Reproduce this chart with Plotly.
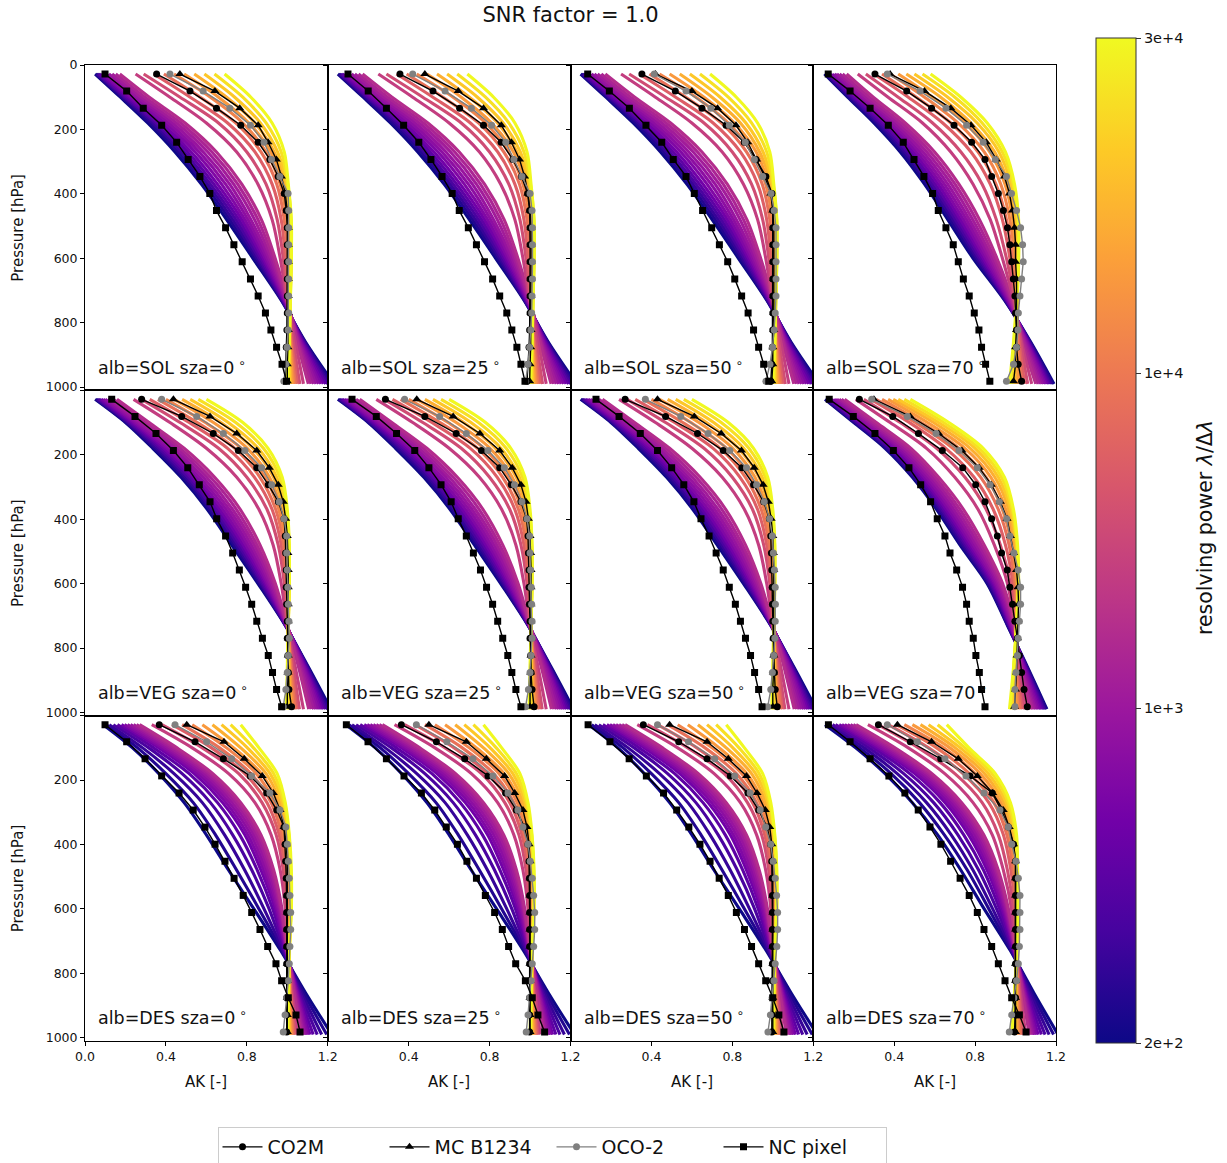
import plotly.graph_objects as go
from plotly.subplots import make_subplots
import plotly.colors as pc

# ---------------- data ----------------
ALBEDOS = ["SOL", "VEG", "DES"]
SZAS = [0, 25, 50, 70]
P_LINE = [28, 100, 180, 270, 370, 480, 600, 730, 860, 990]          # hPa, simulated AK curves
P_MARK = [28, 81, 134, 187, 240, 293, 346, 399, 452, 505, 558, 611, 664, 717, 770, 823, 876, 929, 982]
# colorbar position of each simulated resolving power (0 -> 2e+2, 1 -> 3e+4)
RP_POS = [0.0, 0.04, 0.08, 0.12, 0.17, 0.22, 0.26, 0.29, 0.32, 0.35, 0.38,
          0.41, 0.47, 0.52, 0.58, 0.64, 0.70, 0.76, 0.82, 0.88, 0.94, 1.0]
CBAR_TICKS = [0, 1 / 3, 2 / 3, 1]
CBAR_LABELS = ["2e+2", "1e+3", "1e+4", "3e+4"]
SERIES = ["CO2M", "MC B1234", "OCO-2", "NC pixel"]

# simulated AK curves (one row per resolving power, values at P_LINE)
FAN_SOL = [
    [0.05, 0.175, 0.31, 0.445, 0.575, 0.70, 0.83, 0.97, 1.09, 1.23],
    [0.055, 0.182, 0.322, 0.46, 0.59, 0.715, 0.84, 0.972, 1.087, 1.22],
    [0.06, 0.19, 0.335, 0.475, 0.605, 0.73, 0.85, 0.975, 1.084, 1.21],
    [0.066, 0.198, 0.348, 0.49, 0.62, 0.745, 0.86, 0.978, 1.08, 1.20],
    [0.073, 0.207, 0.362, 0.507, 0.637, 0.76, 0.87, 0.981, 1.077, 1.19],
    [0.082, 0.218, 0.378, 0.525, 0.655, 0.775, 0.88, 0.984, 1.073, 1.178],
    [0.092, 0.23, 0.395, 0.545, 0.675, 0.79, 0.89, 0.987, 1.069, 1.166],
    [0.104, 0.244, 0.413, 0.565, 0.695, 0.805, 0.90, 0.99, 1.065, 1.154],
    [0.118, 0.26, 0.432, 0.585, 0.715, 0.82, 0.91, 0.992, 1.061, 1.142],
    [0.134, 0.277, 0.452, 0.607, 0.735, 0.838, 0.92, 0.995, 1.057, 1.13],
    [0.152, 0.296, 0.473, 0.628, 0.755, 0.855, 0.93, 0.997, 1.053, 1.117],
    [0.172, 0.318, 0.495, 0.65, 0.775, 0.872, 0.94, 1.0, 1.049, 1.104],
    [0.25, 0.42, 0.60, 0.75, 0.855, 0.925, 0.965, 0.998, 1.04, 1.08],
    [0.29, 0.47, 0.66, 0.80, 0.895, 0.95, 0.98, 1.0, 1.03, 1.062],
    [0.34, 0.52, 0.705, 0.84, 0.925, 0.97, 0.99, 1.003, 1.022, 1.05],
    [0.39, 0.57, 0.745, 0.87, 0.948, 0.985, 1.0, 1.006, 1.018, 1.04],
    [0.44, 0.62, 0.78, 0.895, 0.965, 0.997, 1.008, 1.009, 1.015, 1.032],
    [0.49, 0.66, 0.81, 0.918, 0.978, 1.006, 1.013, 1.011, 1.013, 1.025],
    [0.54, 0.70, 0.84, 0.935, 0.99, 1.012, 1.017, 1.013, 1.011, 1.018],
    [0.59, 0.74, 0.867, 0.952, 0.997, 1.016, 1.019, 1.014, 1.01, 1.012],
    [0.64, 0.78, 0.895, 0.97, 1.002, 1.019, 1.02, 1.015, 1.01, 1.006],
    [0.69, 0.82, 0.925, 0.985, 1.005, 1.02, 1.02, 1.015, 1.01, 1.0],
]
FAN_SOL_70 = [
    [0.055, 0.17, 0.30, 0.43, 0.55, 0.665, 0.79, 0.945, 1.075, 1.19],
    [0.06, 0.177, 0.31, 0.442, 0.562, 0.677, 0.80, 0.948, 1.072, 1.184],
    [0.066, 0.185, 0.32, 0.454, 0.575, 0.69, 0.81, 0.951, 1.069, 1.177],
    [0.072, 0.193, 0.331, 0.467, 0.588, 0.702, 0.82, 0.954, 1.066, 1.17],
    [0.079, 0.202, 0.343, 0.48, 0.602, 0.715, 0.83, 0.957, 1.063, 1.163],
    [0.087, 0.212, 0.356, 0.495, 0.617, 0.728, 0.84, 0.96, 1.06, 1.156],
    [0.096, 0.222, 0.37, 0.51, 0.632, 0.742, 0.851, 0.964, 1.057, 1.148],
    [0.106, 0.234, 0.385, 0.526, 0.648, 0.757, 0.862, 0.968, 1.053, 1.14],
    [0.117, 0.246, 0.401, 0.543, 0.665, 0.772, 0.873, 0.972, 1.049, 1.131],
    [0.13, 0.26, 0.418, 0.561, 0.683, 0.788, 0.884, 0.976, 1.045, 1.122],
    [0.145, 0.277, 0.436, 0.58, 0.701, 0.805, 0.896, 0.98, 1.04, 1.112],
    [0.165, 0.297, 0.455, 0.60, 0.72, 0.822, 0.908, 0.984, 1.035, 1.10],
    [0.22, 0.37, 0.54, 0.68, 0.79, 0.875, 0.935, 0.99, 1.03, 1.08],
    [0.26, 0.42, 0.59, 0.73, 0.835, 0.905, 0.955, 0.995, 1.025, 1.06],
    [0.30, 0.47, 0.64, 0.78, 0.875, 0.935, 0.972, 0.999, 1.018, 1.045],
    [0.34, 0.51, 0.68, 0.815, 0.903, 0.955, 0.985, 1.003, 1.013, 1.032],
    [0.38, 0.55, 0.715, 0.845, 0.927, 0.972, 0.996, 1.006, 1.008, 1.022],
    [0.42, 0.59, 0.75, 0.872, 0.948, 0.986, 1.004, 1.008, 1.004, 1.012],
    [0.46, 0.63, 0.78, 0.897, 0.965, 0.998, 1.01, 1.008, 1.0, 1.0],
    [0.50, 0.665, 0.81, 0.918, 0.978, 1.006, 1.013, 1.008, 0.997, 0.99],
    [0.54, 0.70, 0.835, 0.935, 0.988, 1.011, 1.015, 1.007, 0.993, 0.98],
    [0.58, 0.73, 0.86, 0.95, 0.995, 1.015, 1.015, 1.005, 0.99, 0.97],
]
FAN_VEG = [
    [0.05, 0.20, 0.335, 0.475, 0.605, 0.725, 0.855, 0.99, 1.105, 1.215],
    [0.055, 0.205, 0.345, 0.486, 0.616, 0.736, 0.862, 0.991, 1.102, 1.207],
    [0.06, 0.211, 0.355, 0.497, 0.627, 0.747, 0.869, 0.992, 1.099, 1.199],
    [0.066, 0.218, 0.366, 0.509, 0.639, 0.758, 0.876, 0.993, 1.096, 1.19],
    [0.073, 0.226, 0.378, 0.522, 0.652, 0.77, 0.883, 0.994, 1.092, 1.181],
    [0.081, 0.235, 0.391, 0.536, 0.666, 0.782, 0.891, 0.995, 1.088, 1.172],
    [0.09, 0.245, 0.405, 0.551, 0.681, 0.795, 0.899, 0.996, 1.084, 1.162],
    [0.10, 0.256, 0.42, 0.567, 0.697, 0.808, 0.907, 0.997, 1.079, 1.152],
    [0.112, 0.268, 0.436, 0.584, 0.713, 0.822, 0.915, 0.998, 1.074, 1.141],
    [0.125, 0.282, 0.453, 0.602, 0.73, 0.836, 0.924, 0.999, 1.068, 1.13],
    [0.14, 0.298, 0.471, 0.621, 0.749, 0.85, 0.933, 1.0, 1.062, 1.118],
    [0.158, 0.317, 0.49, 0.641, 0.768, 0.865, 0.941, 1.0, 1.056, 1.106],
    [0.24, 0.42, 0.60, 0.75, 0.86, 0.93, 0.97, 1.0, 1.04, 1.08],
    [0.28, 0.47, 0.66, 0.80, 0.90, 0.955, 0.985, 1.0, 1.03, 1.06],
    [0.32, 0.515, 0.705, 0.838, 0.925, 0.97, 0.992, 1.003, 1.022, 1.048],
    [0.36, 0.555, 0.74, 0.865, 0.943, 0.982, 0.998, 1.004, 1.018, 1.039],
    [0.40, 0.595, 0.772, 0.89, 0.958, 0.992, 1.003, 1.005, 1.014, 1.03],
    [0.44, 0.635, 0.802, 0.912, 0.971, 0.999, 1.006, 1.005, 1.011, 1.022],
    [0.48, 0.672, 0.83, 0.932, 0.982, 1.004, 1.008, 1.005, 1.008, 1.015],
    [0.52, 0.708, 0.856, 0.948, 0.99, 1.007, 1.009, 1.005, 1.005, 1.008],
    [0.56, 0.745, 0.882, 0.963, 0.996, 1.009, 1.01, 1.005, 1.002, 1.001],
    [0.60, 0.78, 0.905, 0.975, 1.0, 1.01, 1.01, 1.005, 1.0, 0.995],
]
FAN_VEG_70 = [
    [0.058, 0.20, 0.355, 0.49, 0.61, 0.725, 0.86, 0.96, 1.06, 1.155],
    [0.063, 0.206, 0.363, 0.498, 0.618, 0.733, 0.865, 0.962, 1.057, 1.15],
    [0.068, 0.212, 0.371, 0.506, 0.627, 0.742, 0.871, 0.965, 1.054, 1.144],
    [0.074, 0.219, 0.38, 0.515, 0.636, 0.751, 0.877, 0.968, 1.051, 1.138],
    [0.081, 0.227, 0.39, 0.525, 0.646, 0.761, 0.884, 0.971, 1.048, 1.131],
    [0.089, 0.236, 0.401, 0.536, 0.657, 0.771, 0.891, 0.974, 1.045, 1.124],
    [0.098, 0.246, 0.413, 0.548, 0.669, 0.782, 0.898, 0.977, 1.041, 1.116],
    [0.107, 0.257, 0.425, 0.561, 0.682, 0.793, 0.905, 0.981, 1.037, 1.108],
    [0.117, 0.269, 0.438, 0.575, 0.695, 0.805, 0.913, 0.985, 1.033, 1.10],
    [0.128, 0.282, 0.452, 0.589, 0.71, 0.818, 0.921, 0.989, 1.029, 1.092],
    [0.14, 0.296, 0.467, 0.604, 0.726, 0.831, 0.929, 0.992, 1.025, 1.084],
    [0.155, 0.312, 0.483, 0.62, 0.743, 0.845, 0.936, 0.994, 1.021, 1.076],
    [0.21, 0.38, 0.56, 0.70, 0.815, 0.895, 0.96, 0.995, 1.015, 1.06],
    [0.25, 0.43, 0.61, 0.75, 0.855, 0.925, 0.975, 1.0, 1.01, 1.045],
    [0.285, 0.475, 0.655, 0.795, 0.89, 0.95, 0.987, 1.002, 1.006, 1.033],
    [0.31, 0.505, 0.69, 0.828, 0.915, 0.968, 0.996, 1.004, 1.003, 1.023],
    [0.34, 0.535, 0.72, 0.855, 0.935, 0.981, 1.003, 1.005, 1.0, 1.013],
    [0.37, 0.565, 0.75, 0.878, 0.952, 0.991, 1.008, 1.005, 0.997, 1.004],
    [0.395, 0.595, 0.776, 0.898, 0.966, 0.999, 1.011, 1.005, 0.995, 0.995],
    [0.42, 0.62, 0.80, 0.915, 0.976, 1.004, 1.013, 1.005, 0.993, 0.987],
    [0.45, 0.645, 0.82, 0.931, 0.984, 1.007, 1.014, 1.005, 0.991, 0.978],
    [0.48, 0.67, 0.84, 0.945, 0.99, 1.01, 1.015, 1.005, 0.99, 0.97],
]
FAN_DES = [
    [0.09, 0.235, 0.365, 0.49, 0.60, 0.71, 0.835, 0.968, 1.09, 1.22],
    [0.105, 0.26, 0.40, 0.535, 0.645, 0.75, 0.86, 0.975, 1.08, 1.195],
    [0.12, 0.285, 0.44, 0.58, 0.69, 0.79, 0.885, 0.98, 1.07, 1.17],
    [0.14, 0.315, 0.48, 0.62, 0.73, 0.825, 0.91, 0.985, 1.062, 1.148],
    [0.16, 0.34, 0.515, 0.655, 0.765, 0.852, 0.928, 0.99, 1.056, 1.128],
    [0.18, 0.365, 0.54, 0.68, 0.79, 0.87, 0.94, 0.993, 1.052, 1.112],
    [0.195, 0.38, 0.557, 0.697, 0.805, 0.883, 0.948, 0.995, 1.048, 1.102],
    [0.21, 0.395, 0.573, 0.713, 0.82, 0.895, 0.955, 0.997, 1.045, 1.094],
    [0.225, 0.41, 0.589, 0.728, 0.834, 0.906, 0.961, 0.998, 1.042, 1.087],
    [0.24, 0.425, 0.604, 0.743, 0.847, 0.916, 0.966, 0.999, 1.039, 1.08],
    [0.255, 0.44, 0.618, 0.757, 0.859, 0.925, 0.97, 1.0, 1.036, 1.074],
    [0.27, 0.455, 0.632, 0.77, 0.87, 0.933, 0.974, 1.0, 1.033, 1.068],
    [0.33, 0.53, 0.71, 0.84, 0.92, 0.965, 0.99, 1.0, 1.025, 1.05],
    [0.38, 0.58, 0.76, 0.875, 0.945, 0.98, 0.995, 1.005, 1.02, 1.04],
    [0.43, 0.625, 0.79, 0.90, 0.96, 0.99, 1.002, 1.006, 1.017, 1.034],
    [0.48, 0.665, 0.82, 0.92, 0.972, 0.998, 1.007, 1.007, 1.014, 1.028],
    [0.53, 0.70, 0.847, 0.937, 0.983, 1.004, 1.011, 1.008, 1.012, 1.022],
    [0.58, 0.735, 0.872, 0.952, 0.992, 1.009, 1.014, 1.009, 1.01, 1.017],
    [0.63, 0.77, 0.895, 0.965, 0.999, 1.013, 1.016, 1.01, 1.008, 1.012],
    [0.675, 0.803, 0.915, 0.976, 1.004, 1.016, 1.018, 1.01, 1.007, 1.008],
    [0.72, 0.833, 0.933, 0.984, 1.008, 1.018, 1.019, 1.01, 1.006, 1.004],
    [0.77, 0.86, 0.95, 0.99, 1.01, 1.02, 1.02, 1.01, 1.005, 1.0],
]
FAN_DES_70 = [
    [0.058, 0.21, 0.355, 0.49, 0.615, 0.73, 0.845, 0.975, 1.09, 1.21],
    [0.068, 0.23, 0.385, 0.525, 0.648, 0.762, 0.868, 0.979, 1.081, 1.188],
    [0.08, 0.252, 0.415, 0.56, 0.682, 0.79, 0.887, 0.984, 1.072, 1.166],
    [0.095, 0.275, 0.447, 0.595, 0.715, 0.818, 0.906, 0.988, 1.064, 1.146],
    [0.11, 0.298, 0.477, 0.627, 0.744, 0.842, 0.921, 0.99, 1.057, 1.128],
    [0.128, 0.318, 0.502, 0.652, 0.768, 0.86, 0.933, 0.993, 1.052, 1.112],
    [0.142, 0.333, 0.518, 0.668, 0.783, 0.872, 0.941, 0.995, 1.048, 1.102],
    [0.156, 0.348, 0.533, 0.683, 0.797, 0.882, 0.947, 0.996, 1.045, 1.094],
    [0.17, 0.362, 0.547, 0.697, 0.81, 0.891, 0.952, 0.998, 1.042, 1.087],
    [0.184, 0.376, 0.561, 0.71, 0.822, 0.90, 0.957, 0.999, 1.039, 1.08],
    [0.198, 0.39, 0.574, 0.722, 0.833, 0.908, 0.961, 1.0, 1.036, 1.074],
    [0.212, 0.404, 0.587, 0.734, 0.843, 0.915, 0.965, 1.0, 1.033, 1.068],
    [0.27, 0.47, 0.65, 0.79, 0.885, 0.94, 0.98, 1.0, 1.025, 1.05],
    [0.32, 0.52, 0.70, 0.835, 0.915, 0.96, 0.99, 1.005, 1.02, 1.04],
    [0.37, 0.57, 0.74, 0.868, 0.94, 0.977, 0.998, 1.005, 1.016, 1.032],
    [0.41, 0.61, 0.772, 0.893, 0.957, 0.988, 1.003, 1.005, 1.012, 1.024],
    [0.45, 0.645, 0.80, 0.913, 0.97, 0.997, 1.006, 1.005, 1.009, 1.016],
    [0.49, 0.675, 0.825, 0.928, 0.98, 1.003, 1.008, 1.005, 1.006, 1.009],
    [0.53, 0.702, 0.847, 0.942, 0.988, 1.007, 1.009, 1.005, 1.003, 1.002],
    [0.57, 0.727, 0.866, 0.954, 0.995, 1.009, 1.01, 1.005, 1.0, 0.995],
    [0.615, 0.75, 0.884, 0.965, 1.0, 1.01, 1.01, 1.005, 0.997, 0.988],
    [0.66, 0.77, 0.90, 0.975, 1.005, 1.01, 1.01, 1.005, 0.995, 0.98],
]

# instrument averaging kernels at P_MARK levels
CO2M_SOL_0 = [0.354, 0.519, 0.65, 0.77, 0.856, 0.914, 0.955, 0.985, 0.995, 1.0, 1.0, 1.0, 1.0, 1.0, 1.0, 0.998, 0.995, 0.992, 0.99]
MC_SOL_0 = [0.469, 0.642, 0.765, 0.856, 0.905, 0.946, 0.971, 0.99, 1.0, 1.005, 1.005, 1.005, 1.005, 1.005, 1.005, 1.005, 1.003, 1.0, 1.0]
OCO2_SOL_0 = [0.42, 0.584, 0.716, 0.818, 0.885, 0.922, 0.963, 1.004, 1.007, 1.007, 1.007, 1.007, 1.007, 1.007, 1.007, 1.004, 0.999, 0.993, 0.983]
NC_SOL_0 = [0.099, 0.206, 0.288, 0.379, 0.453, 0.51, 0.568, 0.617, 0.65, 0.695, 0.736, 0.777, 0.818, 0.856, 0.892, 0.919, 0.947, 0.974, 0.996]

CO2M_SOL_25 = [0.357, 0.52, 0.652, 0.77, 0.857, 0.915, 0.958, 0.988, 0.998, 1.0, 1.0, 1.0, 1.0, 1.0, 1.0, 0.998, 0.995, 0.99, 0.985]
MC_SOL_25 = [0.48, 0.645, 0.77, 0.858, 0.908, 0.948, 0.973, 0.99, 1.0, 1.005, 1.005, 1.005, 1.005, 1.005, 1.005, 1.005, 1.003, 1.0, 0.998]
OCO2_SOL_25 = [0.42, 0.58, 0.71, 0.81, 0.88, 0.92, 0.96, 1.0, 1.01, 1.012, 1.012, 1.012, 1.012, 1.01, 1.008, 1.004, 0.998, 0.99, 0.978]
NC_SOL_25 = [0.1, 0.2, 0.29, 0.375, 0.45, 0.51, 0.565, 0.615, 0.65, 0.695, 0.735, 0.775, 0.815, 0.85, 0.885, 0.91, 0.935, 0.955, 0.975]

CO2M_SOL_50 = [0.353, 0.518, 0.65, 0.769, 0.859, 0.917, 0.966, 0.996, 1.0, 1.0, 1.0, 1.0, 1.0, 1.0, 1.0, 1.0, 0.998, 0.995, 0.99]
MC_SOL_50 = [0.42, 0.6, 0.727, 0.818, 0.876, 0.92, 0.96, 0.99, 1.0, 1.005, 1.005, 1.005, 1.005, 1.005, 1.005, 1.005, 1.0, 1.0, 0.995]
OCO2_SOL_50 = [0.414, 0.571, 0.694, 0.785, 0.864, 0.909, 0.95, 0.991, 1.007, 1.016, 1.016, 1.016, 1.016, 1.016, 1.012, 1.007, 0.999, 0.986, 0.966]
NC_SOL_50 = [0.085, 0.192, 0.291, 0.373, 0.451, 0.508, 0.571, 0.612, 0.653, 0.698, 0.736, 0.777, 0.812, 0.846, 0.878, 0.905, 0.93, 0.955, 0.98]

CO2M_SOL_70 = [0.305, 0.462, 0.585, 0.696, 0.783, 0.849, 0.882, 0.915, 0.94, 0.96, 0.972, 0.981, 0.989, 0.997, 1.0, 1.005, 1.005, 1.013, 1.03]
MC_SOL_70 = [0.38, 0.55, 0.68, 0.78, 0.855, 0.905, 0.945, 0.97, 0.985, 0.995, 1.0, 1.0, 1.005, 1.005, 1.005, 1.005, 1.0, 1.0, 0.99]
OCO2_SOL_70 = [0.366, 0.528, 0.656, 0.758, 0.84, 0.9, 0.955, 0.98, 1.005, 1.025, 1.035, 1.038, 1.03, 1.022, 1.014, 1.012, 1.005, 0.99, 0.955]
NC_SOL_70 = [0.074, 0.182, 0.281, 0.371, 0.445, 0.498, 0.547, 0.59, 0.618, 0.656, 0.692, 0.717, 0.742, 0.771, 0.796, 0.819, 0.832, 0.852, 0.873]

CO2M_VEG_0 = [0.28, 0.478, 0.634, 0.758, 0.849, 0.906, 0.956, 0.984, 0.99, 0.992, 0.995, 0.995, 0.997, 1.0, 1.0, 1.003, 1.005, 1.008, 1.021]
MC_VEG_0 = [0.437, 0.618, 0.75, 0.849, 0.911, 0.955, 0.98, 0.992, 1.0, 1.003, 1.005, 1.005, 1.005, 1.005, 1.005, 1.005, 1.003, 1.0, 1.0]
OCO2_VEG_0 = [0.379, 0.552, 0.684, 0.791, 0.873, 0.923, 0.96, 0.984, 0.997, 0.997, 1.0, 1.003, 1.005, 1.008, 1.01, 1.005, 1.0, 0.993, 0.98]
NC_VEG_0 = [0.132, 0.247, 0.351, 0.437, 0.508, 0.565, 0.618, 0.651, 0.695, 0.73, 0.763, 0.794, 0.824, 0.849, 0.877, 0.906, 0.927, 0.947, 0.972]

CO2M_VEG_25 = [0.285, 0.48, 0.635, 0.76, 0.85, 0.907, 0.955, 0.983, 0.99, 0.992, 0.995, 0.995, 0.997, 1.0, 1.0, 1.003, 1.005, 1.01, 1.02]
MC_VEG_25 = [0.44, 0.62, 0.752, 0.85, 0.912, 0.955, 0.98, 0.992, 1.0, 1.003, 1.005, 1.005, 1.005, 1.005, 1.005, 1.005, 1.003, 1.0, 1.0]
OCO2_VEG_25 = [0.38, 0.553, 0.685, 0.792, 0.873, 0.923, 0.96, 0.985, 0.998, 1.0, 1.003, 1.006, 1.008, 1.01, 1.01, 1.005, 1.0, 0.992, 0.978]
NC_VEG_25 = [0.12, 0.24, 0.34, 0.43, 0.5, 0.56, 0.61, 0.645, 0.685, 0.72, 0.755, 0.785, 0.815, 0.84, 0.865, 0.89, 0.91, 0.93, 0.955]

CO2M_VEG_50 = [0.27, 0.47, 0.628, 0.755, 0.847, 0.905, 0.955, 0.983, 0.99, 0.993, 0.995, 0.997, 0.998, 1.0, 1.002, 1.005, 1.008, 1.012, 1.022]
MC_VEG_50 = [0.43, 0.612, 0.745, 0.845, 0.908, 0.952, 0.978, 0.992, 1.0, 1.003, 1.005, 1.005, 1.005, 1.005, 1.005, 1.005, 1.003, 1.0, 1.0]
OCO2_VEG_50 = [0.37, 0.545, 0.68, 0.788, 0.87, 0.92, 0.958, 0.984, 0.998, 1.003, 1.008, 1.012, 1.013, 1.012, 1.01, 1.005, 0.998, 0.99, 0.975]
NC_VEG_50 = [0.126, 0.24, 0.345, 0.43, 0.5, 0.56, 0.61, 0.645, 0.685, 0.72, 0.755, 0.785, 0.815, 0.84, 0.865, 0.89, 0.91, 0.93, 0.947]

CO2M_VEG_70 = [0.228, 0.393, 0.52, 0.638, 0.739, 0.803, 0.849, 0.882, 0.91, 0.931, 0.959, 0.972, 0.985, 0.997, 1.009, 1.019, 1.03, 1.042, 1.058]
MC_VEG_70 = [0.3, 0.48, 0.62, 0.735, 0.82, 0.88, 0.925, 0.958, 0.975, 0.99, 1.005, 1.012, 1.015, 1.012, 1.01, 1.008, 1.005, 1.0, 0.995]
OCO2_VEG_70 = [0.289, 0.465, 0.607, 0.72, 0.811, 0.874, 0.92, 0.956, 0.972, 0.992, 1.013, 1.025, 1.025, 1.019, 1.013, 1.009, 1.002, 0.997, 0.997]
NC_VEG_70 = [0.079, 0.198, 0.305, 0.396, 0.473, 0.531, 0.58, 0.613, 0.651, 0.676, 0.709, 0.738, 0.758, 0.771, 0.791, 0.804, 0.821, 0.832, 0.849]

CO2M_DES_0 = [0.367, 0.544, 0.684, 0.817, 0.898, 0.948, 0.984, 0.989, 0.992, 0.995, 0.997, 0.997, 0.997, 0.997, 0.997, 0.997, 0.997, 0.997, 0.997]
MC_DES_0 = [0.503, 0.687, 0.787, 0.876, 0.931, 0.964, 0.984, 0.995, 1.0, 1.0, 1.0, 1.0, 1.0, 1.0, 1.0, 1.0, 1.0, 1.0, 1.0]
OCO2_DES_0 = [0.445, 0.601, 0.725, 0.824, 0.914, 0.964, 0.993, 1.0, 1.005, 1.01, 1.013, 1.017, 1.017, 1.013, 1.01, 1.005, 0.997, 0.989, 0.98]
NC_DES_0 = [0.099, 0.206, 0.297, 0.379, 0.465, 0.535, 0.593, 0.643, 0.692, 0.737, 0.782, 0.824, 0.865, 0.903, 0.944, 0.972, 1.005, 1.043, 1.063]

CO2M_DES_25 = [0.364, 0.537, 0.677, 0.792, 0.879, 0.932, 0.973, 0.99, 0.995, 0.997, 0.998, 0.998, 0.998, 0.998, 0.998, 0.998, 0.998, 0.998, 0.998]
MC_DES_25 = [0.5, 0.685, 0.784, 0.874, 0.924, 0.965, 0.985, 0.995, 1.0, 1.0, 1.0, 1.0, 1.0, 1.0, 1.0, 1.0, 1.0, 1.0, 1.0]
OCO2_DES_25 = [0.438, 0.589, 0.718, 0.817, 0.891, 0.94, 0.965, 0.99, 1.001, 1.011, 1.018, 1.023, 1.023, 1.018, 1.011, 1.006, 0.998, 0.99, 0.981]
NC_DES_25 = [0.092, 0.199, 0.29, 0.377, 0.463, 0.529, 0.586, 0.641, 0.688, 0.735, 0.779, 0.825, 0.863, 0.894, 0.929, 0.977, 1.011, 1.039, 1.072]

CO2M_DES_50 = [0.36, 0.535, 0.675, 0.79, 0.877, 0.93, 0.972, 0.99, 0.995, 0.997, 0.998, 0.998, 0.998, 0.998, 0.998, 0.998, 0.998, 0.997, 0.995]
MC_DES_50 = [0.49, 0.675, 0.78, 0.87, 0.922, 0.963, 0.985, 0.995, 1.0, 1.0, 1.0, 1.0, 1.0, 1.0, 1.0, 1.0, 1.0, 1.0, 1.0]
OCO2_DES_50 = [0.43, 0.583, 0.713, 0.812, 0.888, 0.938, 0.965, 0.99, 1.002, 1.012, 1.019, 1.024, 1.024, 1.02, 1.012, 1.006, 0.997, 0.988, 0.976]
NC_DES_50 = [0.087, 0.195, 0.29, 0.375, 0.46, 0.525, 0.585, 0.64, 0.69, 0.735, 0.78, 0.82, 0.86, 0.895, 0.93, 0.965, 1.0, 1.03, 1.055]

CO2M_DES_70 = [0.322, 0.48, 0.63, 0.775, 0.885, 0.93, 0.965, 0.99, 1.0, 1.0, 1.0, 1.0, 1.0, 1.0, 1.0, 1.0, 1.0, 0.998, 0.995]
MC_DES_70 = [0.416, 0.585, 0.717, 0.811, 0.887, 0.939, 0.969, 0.99, 1.0, 1.0, 1.0, 1.0, 1.0, 1.0, 1.0, 1.0, 1.0, 1.0, 1.0]
OCO2_DES_70 = [0.366, 0.515, 0.651, 0.755, 0.844, 0.923, 0.964, 0.981, 1.002, 1.014, 1.022, 1.022, 1.022, 1.019, 1.014, 1.005, 0.992, 0.981, 0.969]
NC_DES_70 = [0.075, 0.182, 0.281, 0.374, 0.453, 0.519, 0.577, 0.631, 0.679, 0.726, 0.771, 0.811, 0.844, 0.882, 0.915, 0.948, 0.981, 1.019, 1.052]

# ---------------- lookup tables built from the arrays ----------------
FANS = {
    ("SOL", 0): FAN_SOL, ("SOL", 25): FAN_SOL, ("SOL", 50): FAN_SOL, ("SOL", 70): FAN_SOL_70,
    ("VEG", 0): FAN_VEG, ("VEG", 25): FAN_VEG, ("VEG", 50): FAN_VEG, ("VEG", 70): FAN_VEG_70,
    ("DES", 0): FAN_DES, ("DES", 25): FAN_DES, ("DES", 50): FAN_DES, ("DES", 70): FAN_DES_70,
}
MARKS = {
    ("SOL", 0): [CO2M_SOL_0, MC_SOL_0, OCO2_SOL_0, NC_SOL_0],
    ("SOL", 25): [CO2M_SOL_25, MC_SOL_25, OCO2_SOL_25, NC_SOL_25],
    ("SOL", 50): [CO2M_SOL_50, MC_SOL_50, OCO2_SOL_50, NC_SOL_50],
    ("SOL", 70): [CO2M_SOL_70, MC_SOL_70, OCO2_SOL_70, NC_SOL_70],
    ("VEG", 0): [CO2M_VEG_0, MC_VEG_0, OCO2_VEG_0, NC_VEG_0],
    ("VEG", 25): [CO2M_VEG_25, MC_VEG_25, OCO2_VEG_25, NC_VEG_25],
    ("VEG", 50): [CO2M_VEG_50, MC_VEG_50, OCO2_VEG_50, NC_VEG_50],
    ("VEG", 70): [CO2M_VEG_70, MC_VEG_70, OCO2_VEG_70, NC_VEG_70],
    ("DES", 0): [CO2M_DES_0, MC_DES_0, OCO2_DES_0, NC_DES_0],
    ("DES", 25): [CO2M_DES_25, MC_DES_25, OCO2_DES_25, NC_DES_25],
    ("DES", 50): [CO2M_DES_50, MC_DES_50, OCO2_DES_50, NC_DES_50],
    ("DES", 70): [CO2M_DES_70, MC_DES_70, OCO2_DES_70, NC_DES_70],
}
STYLES = [
    dict(color="black", symbol="circle", size=7),
    dict(color="black", symbol="triangle-up", size=8),
    dict(color="#808080", symbol="circle", size=7),
    dict(color="black", symbol="square", size=7),
]

# ---------------- figure ----------------
W, H = 1227, 1163
ML, MR, MT, MB = 85, 171, 65, 122
PW, PH = W - ML - MR, H - MT - MB
FONT = "DejaVu Sans"
TXT = "#111"

fig = make_subplots(rows=3, cols=4, horizontal_spacing=0, vertical_spacing=0)
fan_colors = pc.sample_colorscale("Plasma", RP_POS)

for r, alb in enumerate(ALBEDOS):
    for c, sza in enumerate(SZAS):
        key = (alb, sza)
        for curve, col in zip(FANS[key], fan_colors):
            fig.add_trace(go.Scatter(
                x=curve, y=P_LINE, mode="lines",
                line=dict(color=col, width=3.1, shape="spline", smoothing=0.9),
                showlegend=False, hoverinfo="skip"), row=r + 1, col=c + 1)
        for name, vals, st in zip(SERIES, MARKS[key], STYLES):
            fig.add_trace(go.Scatter(
                x=vals, y=P_MARK, mode="lines+markers", name=name,
                line=dict(color=st["color"], width=1.4),
                marker=dict(color=st["color"], symbol=st["symbol"], size=st["size"]),
                showlegend=(r == 0 and c == 0), legendgroup=name), row=r + 1, col=c + 1)
        n = r * 4 + c + 1
        sfx = "" if n == 1 else str(n)
        fig.add_annotation(
            x=0.055, y=937, xref="x" + sfx, yref="y" + sfx,
            text=f"alb={alb} sza={sza}<sup> ∘</sup>", showarrow=False,
            xanchor="left", yanchor="middle", font=dict(size=17.5, family=FONT, color=TXT))

# colorbar (dummy trace outside the visible range)
fig.add_trace(go.Scatter(
    x=[-1], y=[500], mode="markers", showlegend=False, hoverinfo="skip",
    marker=dict(color=[0.5], colorscale="Plasma", cmin=0, cmax=1, showscale=True, size=1,
                colorbar=dict(
                    thickness=40, thicknessmode="pixels", len=1005, lenmode="pixels",
                    x=(1096 - ML) / PW, xanchor="left",
                    y=(1041 - 540.5) / PH, yanchor="middle",
                    xpad=0, ypad=0, outlinewidth=1, outlinecolor="#333",
                    tickvals=CBAR_TICKS, ticktext=CBAR_LABELS, ticks="outside", ticklen=5,
                    tickcolor="#333", tickfont=dict(size=14.5, family=FONT, color=TXT)))),
    row=1, col=1)
fig.add_annotation(x=(1205 - ML) / PW, y=(1041 - 528) / PH, xref="paper", yref="paper",
                   text="resolving power <i>λ</i>/Δ<i>λ</i>", textangle=-90, showarrow=False,
                   xanchor="center", yanchor="middle", font=dict(size=20.5, family=FONT, color=TXT))

for r in range(3):
    for c in range(4):
        ytext = [str(v) for v in [0, 200, 400, 600, 800, 1000]]
        if r > 0:
            ytext[0] = ""
        fig.update_yaxes(
            range=[1010, 0], tickvals=[0, 200, 400, 600, 800, 1000], ticktext=ytext,
            showticklabels=(c == 0), ticks="outside", ticklen=4, tickwidth=1, tickcolor="black",
            showline=True, mirror=True, linecolor="black", linewidth=1, showgrid=False,
            zeroline=False, tickfont=dict(size=12.5, family=FONT, color=TXT),
            row=r + 1, col=c + 1)
        xtext = ["0.0", "0.4", "0.8", "1.2"] if c == 0 else ["", "0.4", "0.8", "1.2"]
        fig.update_xaxes(
            range=[0, 1.2], tickvals=[0, 0.4, 0.8, 1.2], ticktext=xtext,
            showticklabels=(r == 2), ticks="outside" if r == 2 else "", ticklen=4, tickwidth=1,
            tickcolor="black", showline=True, mirror=True, linecolor="black", linewidth=1,
            showgrid=False, zeroline=False, tickfont=dict(size=12.5, family=FONT, color=TXT),
            row=r + 1, col=c + 1)

for r in range(3):
    fig.add_annotation(x=(18 - ML) / PW, y=1 - (r + 0.5) / 3, xref="paper", yref="paper",
                       text="Pressure [hPa]", textangle=-90, showarrow=False,
                       xanchor="center", yanchor="middle",
                       font=dict(size=15, family=FONT, color=TXT))
for c in range(4):
    fig.add_annotation(x=(c + 0.5) / 4, y=(1041 - 1082) / PH, xref="paper", yref="paper",
                       text="AK [-]", showarrow=False, xanchor="center", yanchor="middle",
                       font=dict(size=15, family=FONT, color=TXT))

fig.update_layout(
    width=W, height=H, margin=dict(l=ML, r=MR, t=MT, b=MB, autoexpand=False),
    paper_bgcolor="white", plot_bgcolor="white",
    font=dict(family=FONT, color=TXT),
    title=dict(text="SNR factor = 1.0", x=0.5, xref="paper", y=1 - 15 / H, yref="container",
               xanchor="center", yanchor="middle", font=dict(size=21, family=FONT, color=TXT)),
    legend=dict(orientation="h", x=(552 - ML) / PW, xanchor="center",
                y=(1041 - 1127) / PH, yanchor="top", bordercolor="#cccccc", borderwidth=1,
                font=dict(size=19, family=FONT, color=TXT), itemwidth=40,
                entrywidth=112, bgcolor="white"),
)

fig.write_html("out.html")
